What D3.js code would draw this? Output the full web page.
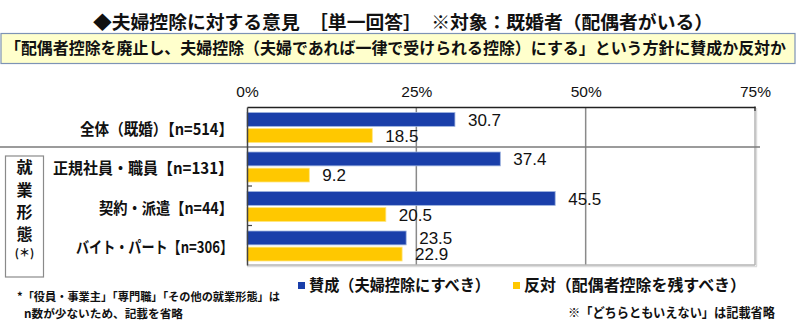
<!DOCTYPE html>
<html><head><meta charset="utf-8">
<script src="https://cdn.jsdelivr.net/npm/d3@7"></script>
<style>
body{margin:0;background:#fff;}
svg{display:block;}
.jp{font-family:"Noto Sans CJK JP","Noto Sans",sans-serif;font-weight:bold;fill:#111;}
.num{font-family:"Liberation Sans",Arial,sans-serif;fill:#111;}
</style></head>
<body>
<script>
const categories = ["全体（既婚）【n=514】","正規社員・職員【n=131】","契約・派遣【n=44】","バイト・パート【n=306】"];
const seriesNames = ["賛成（夫婦控除にすべき）","反対（配偶者控除を残すべき）"];
const agree = [30.7, 37.4, 45.5, 23.5];
const disagree = [18.5, 9.2, 20.5, 22.9];
const tickValues = [0, 25, 50, 75];
const titleText = "◆夫婦控除に対する意見　［単一回答］　※対象：既婚者（配偶者がいる）";
const questionText = "「配偶者控除を廃止し、夫婦控除（夫婦であれば一律で受けられる控除）にする」という方針に賛成か反対か";
const groupLabel = ["就","業","形","態","(＊)"];
const footnote1 = "*「役員・事業主」「専門職」「その他の就業形態」は";
const footnote2 = "n数が少ないため、記載を省略";
const noteRight = "※「どちらともいえない」は記載省略";

const colors = ["#1a3faa", "#ffc800"];
const W = 800, H = 324;
const svg = d3.select("body").append("svg").attr("width", W).attr("height", H);

// title
svg.append("text").attr("class","jp").attr("x",93).attr("y",29)
  .attr("font-size",18).attr("textLength",620).attr("lengthAdjust","spacingAndGlyphs").text(titleText);

// question box
svg.append("rect").attr("x",1).attr("y",33.5).attr("width",794).attr("height",30)
  .attr("fill","#ffffcc").attr("stroke","#7d93b5").attr("stroke-width",1.2);
svg.append("text").attr("class","jp").attr("x",5).attr("y",54.5)
  .attr("font-size",15.5).attr("textLength",781).attr("lengthAdjust","spacingAndGlyphs")
  .attr("transform","translate(5,54.5) scale(1,1.06) translate(-5,-54.5)").text(questionText);

// scales
const x = d3.scaleLinear().domain([0,75]).range([247,755]);
const y0 = d3.scaleBand().domain(categories).range([107,265]).paddingInner(0).paddingOuter(0);
const y1 = d3.scaleBand().domain([0,1]).range([5.5, 35.5]).paddingInner(0.14);

const plotTop = 107, plotBottom = 265;

// gridlines
svg.append("g").selectAll("line").data([25,50]).join("line")
  .attr("x1",d=>x(d)).attr("x2",d=>x(d)).attr("y1",plotTop).attr("y2",plotBottom)
  .attr("stroke","#8a8a8a").attr("stroke-width",1.5);
// right/bottom frame (light gray with shadow)
svg.append("line").attr("x1",x(75)+1.5).attr("x2",x(75)+1.5).attr("y1",plotTop+1).attr("y2",plotBottom+1.5).attr("stroke","#dcdcdc").attr("stroke-width",1.5);
svg.append("line").attr("x1",x(0)).attr("x2",x(75)+2).attr("y1",plotBottom+1.5).attr("y2",plotBottom+1.5).attr("stroke","#dcdcdc").attr("stroke-width",1.5);
svg.append("line").attr("x1",x(75)).attr("x2",x(75)).attr("y1",plotTop).attr("y2",plotBottom).attr("stroke","#b4b4b4").attr("stroke-width",1.5);
svg.append("line").attr("x1",x(0)).attr("x2",x(75)).attr("y1",plotBottom).attr("y2",plotBottom).attr("stroke","#b4b4b4").attr("stroke-width",1.5);

// top axis
const axTop = svg.append("g").attr("transform",`translate(0,${plotTop})`)
  .call(d3.axisTop(x).tickValues(tickValues).tickFormat(d=>d+"%").tickSize(0).tickPadding(10));
axTop.select(".domain").attr("stroke","#222").attr("stroke-width",1.5);
axTop.selectAll("text").attr("class","num").attr("font-size",15.5).attr("fill","#111")
  .attr("font-family","Liberation Sans, Arial, sans-serif");
svg.append("line").attr("x1",x(75)).attr("x2",x(75)).attr("y1",plotTop-0.5).attr("y2",plotTop+4).attr("stroke","#222").attr("stroke-width",1.2);

// separator line
const sepY = y0(categories[1]) + 0.5;
svg.append("line").attr("x1",0).attr("x2",760).attr("y1",sepY).attr("y2",sepY)
  .attr("stroke","#7a7a7a").attr("stroke-width",1.5);

// bars
const groups = svg.append("g").selectAll("g").data(categories).join("g")
  .attr("transform",d=>`translate(0,${y0(d)})`);
groups.each(function(cat,i){
  const g = d3.select(this);
  const vals = [agree[i], disagree[i]];
  vals.forEach((v,s)=>{
    g.append("rect").attr("x",x(0)).attr("y",y1(s)).attr("width",x(v)-x(0)).attr("height",y1.bandwidth())
      .attr("fill",colors[s]).attr("stroke", s===0 ? "#9fb4e0" : "#ffe680").attr("stroke-width",0.8);
    g.append("text").attr("class","num").attr("x",x(v)+13).attr("y",y1(s)+y1.bandwidth()/2).attr("dy","0.36em")
      .attr("font-size",17).text(v.toFixed(1));
  });
});

// left axis
const axLeft = svg.append("g").attr("transform",`translate(${x(0)},0)`)
  .call(d3.axisLeft(y0).tickSize(0).tickFormat(""));
axLeft.select(".domain").attr("stroke","#444").attr("stroke-width",1.5);
svg.append("g").selectAll("line").data(categories.slice(2)).join("line")
  .attr("x1",x(0)).attr("x2",x(0)+5).attr("y1",d=>y0(d)).attr("y2",d=>y0(d))
  .attr("stroke","#444").attr("stroke-width",1.2);

// category labels
const labelLens = [153, 180, 134, 157];
svg.append("g").selectAll("text").data(categories).join("text").attr("class","jp")
  .attr("x",233).attr("y",d=>y0(d)+y0.bandwidth()/2+2).attr("dy","0.36em")
  .attr("text-anchor","end").attr("font-size",16)
  .attr("textLength",(d,i)=>labelLens[i]).attr("lengthAdjust","spacingAndGlyphs").text(d=>d);

// employment group box
svg.append("rect").attr("x",5.5).attr("y",156).attr("width",38).attr("height",121)
  .attr("fill","#fff").attr("stroke","#8a8a8a").attr("stroke-width",1.2);
const gy = [167,190,212,234,253];
svg.append("g").selectAll("text").data(groupLabel).join("text").attr("class","jp")
  .attr("x",24.5).attr("y",(d,i)=>gy[i]).attr("dy","0.36em").attr("text-anchor","middle")
  .attr("font-size",(d,i)=>i<4?16:11).text(d=>d);

// legend
const legX = [298, 513], legLen = [181, 222];
seriesNames.forEach((n,i)=>{
  svg.append("rect").attr("x",legX[i]).attr("y",282).attr("width",7).attr("height",7).attr("fill",colors[i]);
  svg.append("text").attr("class","jp").attr("x",legX[i]+11).attr("y",285.5).attr("dy","0.36em")
    .attr("font-size",16).attr("textLength",legLen[i]).attr("lengthAdjust","spacingAndGlyphs").text(n);
});

// footnotes
svg.append("text").attr("class","jp").attr("x",17).attr("y",297).attr("dy","0.36em")
  .attr("font-size",11.5).attr("textLength",263).attr("lengthAdjust","spacingAndGlyphs").text(footnote1);
svg.append("text").attr("class","jp").attr("x",24).attr("y",313.5).attr("dy","0.36em")
  .attr("font-size",11.5).attr("textLength",159).attr("lengthAdjust","spacingAndGlyphs").text(footnote2);
svg.append("text").attr("class","jp").attr("x",568).attr("y",312.5).attr("dy","0.36em")
  .attr("font-size",13).attr("textLength",207).attr("lengthAdjust","spacingAndGlyphs").text(noteRight);
</script>
</body></html>
